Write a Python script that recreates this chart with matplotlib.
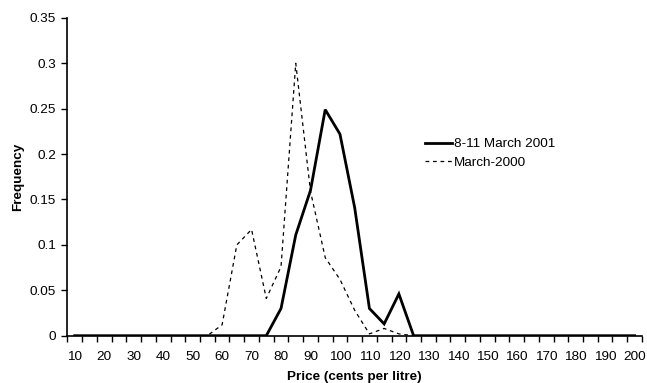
import matplotlib

matplotlib.use("Agg")
import matplotlib.pyplot as plt

plt.rcParams["font.family"] = ["Liberation Sans", "DejaVu Sans"]

# price categories (cents per litre), one every 5 cents
prices = list(range(10, 205, 5))

freq_2001 = [
    0, 0, 0, 0, 0, 0, 0, 0, 0, 0, 0, 0, 0,  # 10-70
    0, 0.03, 0.111, 0.16, 0.249, 0.222, 0.141, 0.03, 0.013, 0.046, 0,  # 75-125
    0, 0, 0, 0, 0, 0, 0, 0, 0, 0, 0, 0, 0, 0, 0,  # 130-200
]
freq_2000 = [
    0, 0, 0, 0, 0, 0, 0, 0, 0, 0,  # 10-55
    0.012, 0.10, 0.117, 0.041, 0.076, 0.30, 0.159, 0.086, 0.062, 0.028,  # 60-105
    0.002, 0.008, 0.002, 0,  # 110-125
    0, 0, 0, 0, 0, 0, 0, 0, 0, 0, 0, 0, 0, 0, 0,  # 130-200
]
labels = ["8-11 March 2001", "March-2000"]
y_ticks = [0, 0.05, 0.1, 0.15, 0.2, 0.25, 0.3, 0.35]

fs = 9.7
fig = plt.figure(figsize=(6.47, 3.83), dpi=100)
ax = fig.add_axes([0.1042, 0.1235, 0.888, 0.8298])

ax.plot(prices, freq_2001, color="black", lw=2.0, label=labels[0],
        solid_joinstyle="miter")
ax.plot(prices, freq_2000, color="black", lw=0.9, label=labels[1],
        dashes=(3, 3))

ax.set_xlim(prices[0] - 2.5, prices[-1] + 2.5)
ax.set_ylim(0, 0.35)

# labels on every other category, tick marks between categories
ax.set_xticks(prices[::2])
ax.set_xticklabels([str(p) for p in prices[::2]], fontsize=fs)
ax.set_xticks([p - 2.5 for p in prices] + [prices[-1] + 2.5], minor=True)
ax.tick_params(axis="x", which="major", length=0, pad=11)
ax.tick_params(axis="x", which="minor", length=4, width=1, direction="out")

ax.set_yticks(y_ticks)
ax.set_yticklabels([f"{v:g}" for v in y_ticks], fontsize=fs)
ax.tick_params(axis="y", length=4, width=1, direction="out", pad=4.3)

for side in ("top", "right"):
    ax.spines[side].set_visible(False)
for side in ("left", "bottom"):
    ax.spines[side].set_linewidth(1.2)

ax.set_xlabel("Price (cents per litre)", fontsize=fs, fontweight="bold",
              labelpad=6)
ax.set_ylabel("Frequency", fontsize=fs, fontweight="bold", labelpad=4)

fig.legend(loc="upper left", bbox_to_anchor=(425 / 647, 1 - 138 / 383),
           frameon=False, fontsize=fs, handlelength=2.0, handletextpad=0.12,
           borderpad=0, borderaxespad=0, labelspacing=0.42)

fig.savefig("out.png", dpi=100)
plt.close(fig)
